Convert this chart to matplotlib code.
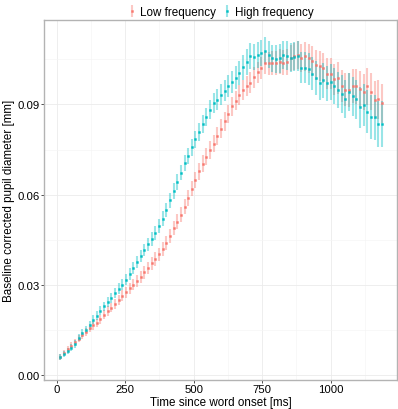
import matplotlib
matplotlib.use("Agg")
import matplotlib.pyplot as plt
from matplotlib.ticker import MultipleLocator
import numpy as np

# time bins (ms), one every 1000/75 ms
step_ms = 1000 / 75
n_bins = 89
time_ms = step_ms * np.arange(1, n_bins + 1)

# mean baseline-corrected pupil diameter [mm]
low_mean = [
    0.0061, 0.0073, 0.0085, 0.0097, 0.0108, 0.0120, 0.0132, 0.0143, 0.0155, 0.0165,
    0.0173, 0.0186, 0.0200, 0.0213, 0.0224, 0.0237, 0.0250, 0.0263, 0.0275, 0.0288,
    0.0300, 0.0314, 0.0327, 0.0341, 0.0356, 0.0371, 0.0386, 0.0401, 0.0420, 0.0439,
    0.0463, 0.0488, 0.0509, 0.0533, 0.0559, 0.0589, 0.0620, 0.0648, 0.0677, 0.0703,
    0.0726, 0.0749, 0.0770, 0.0795, 0.0820, 0.0844, 0.0868, 0.0894, 0.0912, 0.0931,
    0.0949, 0.0962, 0.0973, 0.0990, 0.1007, 0.1022, 0.1037, 0.1037, 0.1038, 0.1037,
    0.1042, 0.1039, 0.1042, 0.1054, 0.1060, 0.1064, 0.1055, 0.1060, 0.1053, 0.1044,
    0.1032, 0.1027, 0.1020, 0.1002, 0.1002, 0.0984, 0.0989, 0.0961, 0.0949, 0.0949,
    0.0962, 0.0961, 0.0951, 0.0942, 0.0960, 0.0942, 0.0915, 0.0917, 0.0904,
]
high_mean = [
    0.0059, 0.0069, 0.0080, 0.0091, 0.0103, 0.0124, 0.0140, 0.0151, 0.0165, 0.0184,
    0.0197, 0.0213, 0.0228, 0.0242, 0.0255, 0.0272, 0.0287, 0.0300, 0.0317, 0.0336,
    0.0356, 0.0377, 0.0396, 0.0416, 0.0434, 0.0452, 0.0473, 0.0495, 0.0520, 0.0548,
    0.0582, 0.0612, 0.0643, 0.0673, 0.0704, 0.0729, 0.0757, 0.0784, 0.0809, 0.0834,
    0.0858, 0.0882, 0.0904, 0.0916, 0.0933, 0.0946, 0.0961, 0.0975, 0.0989, 0.1004,
    0.1024, 0.1041, 0.1060, 0.1059, 0.1065, 0.1071, 0.1079, 0.1066, 0.1053, 0.1051,
    0.1053, 0.1064, 0.1062, 0.1056, 0.1059, 0.1062, 0.1022, 0.1023, 0.1018, 0.1003,
    0.0988, 0.0971, 0.0980, 0.0970, 0.0975, 0.0962, 0.0948, 0.0935, 0.0918, 0.0942,
    0.0927, 0.0917, 0.0890, 0.0898, 0.0876, 0.0858, 0.0857, 0.0835, 0.0834,
]

# half-length of the error bars [mm]
low_err = [
    0.0010, 0.0010, 0.0011, 0.0011, 0.0012, 0.0012, 0.0012, 0.0013, 0.0013, 0.0014,
    0.0014, 0.0015, 0.0015, 0.0016, 0.0016, 0.0017, 0.0017, 0.0018, 0.0018, 0.0019,
    0.0019, 0.0020, 0.0020, 0.0021, 0.0021, 0.0022, 0.0022, 0.0022, 0.0023, 0.0023,
    0.0024, 0.0024, 0.0025, 0.0025, 0.0025, 0.0026, 0.0026, 0.0027, 0.0027, 0.0028,
    0.0028, 0.0029, 0.0029, 0.0030, 0.0030, 0.0031, 0.0031, 0.0032, 0.0032, 0.0033,
    0.0033, 0.0034, 0.0034, 0.0035, 0.0035, 0.0036, 0.0037, 0.0038, 0.0039, 0.0040,
    0.0041, 0.0042, 0.0043, 0.0044, 0.0046, 0.0047, 0.0047, 0.0048, 0.0048, 0.0049,
    0.0049, 0.0050, 0.0050, 0.0051, 0.0052, 0.0052, 0.0053, 0.0054, 0.0055, 0.0056,
    0.0057, 0.0058, 0.0059, 0.0060, 0.0061, 0.0062, 0.0063, 0.0064, 0.0065,
]
high_err = [
    0.0010, 0.0010, 0.0011, 0.0011, 0.0012, 0.0012, 0.0013, 0.0013, 0.0014, 0.0014,
    0.0015, 0.0015, 0.0016, 0.0016, 0.0017, 0.0017, 0.0018, 0.0018, 0.0019, 0.0019,
    0.0020, 0.0020, 0.0021, 0.0021, 0.0022, 0.0022, 0.0023, 0.0023, 0.0024, 0.0024,
    0.0025, 0.0025, 0.0026, 0.0026, 0.0027, 0.0027, 0.0028, 0.0028, 0.0029, 0.0030,
    0.0031, 0.0032, 0.0033, 0.0034, 0.0035, 0.0036, 0.0037, 0.0038, 0.0039, 0.0040,
    0.0041, 0.0042, 0.0043, 0.0043, 0.0044, 0.0044, 0.0045, 0.0045, 0.0046, 0.0046,
    0.0047, 0.0047, 0.0048, 0.0048, 0.0049, 0.0050, 0.0051, 0.0052, 0.0053, 0.0054,
    0.0055, 0.0056, 0.0057, 0.0058, 0.0059, 0.0060, 0.0061, 0.0062, 0.0063, 0.0064,
    0.0065, 0.0066, 0.0068, 0.0069, 0.0071, 0.0072, 0.0074, 0.0076, 0.0077,
]

conditions = ["Low frequency", "High frequency"]
means = [low_mean, high_mean]
errs = [low_err, high_err]
colors = ["#F8766D", "#00BFC4"]

plt.rcParams["font.family"] = ["Liberation Sans", "DejaVu Sans"]

fig = plt.figure(figsize=(3.98, 4.10), dpi=100)
ax = fig.add_axes([0.1106, 0.0707, 0.887, 0.878])

for label, m, e, c in zip(conditions, means, errs, colors):
    ax.errorbar(time_ms, m, yerr=e, fmt="s", ms=1.4, color=c, mec=c, mew=0.3,
                ecolor=matplotlib.colors.to_rgba(c, 0.4), elinewidth=1.5,
                capsize=0, label=label, zorder=3)

ax.set_xlim(-46, 1242)
ax.set_ylim(-0.0017, 0.1181)
ax.xaxis.set_major_locator(MultipleLocator(250))
ax.xaxis.set_minor_locator(MultipleLocator(125))
ax.yaxis.set_major_locator(MultipleLocator(0.03))
ax.yaxis.set_minor_locator(MultipleLocator(0.015))
ax.yaxis.set_major_formatter(matplotlib.ticker.FormatStrFormatter("%.2f"))

ax.grid(which="major", color="#ebebeb", lw=0.6)
ax.grid(which="minor", color="#f5f5f5", lw=0.5)
ax.set_axisbelow(True)
for s in ax.spines.values():
    s.set_color("#b3b3b3")
    s.set_linewidth(1.0)
ax.tick_params(which="major", direction="out", length=2, width=0.6,
               color="#333333", labelsize=8.2, labelcolor="black", pad=1)
ax.tick_params(which="minor", length=0)

ax.set_xlabel("Time since word onset [ms]", fontsize=8.4, labelpad=1)
ax.set_ylabel("Baseline corrected pupil diameter [mm]", fontsize=8.4, labelpad=2)

fig.legend(loc="upper center", bbox_to_anchor=(0.553, 1.008), ncol=2,
           frameon=False, fontsize=8.4, handlelength=1.0, handletextpad=0.2,
           columnspacing=0.4)

fig.savefig("out.png", dpi=100)
